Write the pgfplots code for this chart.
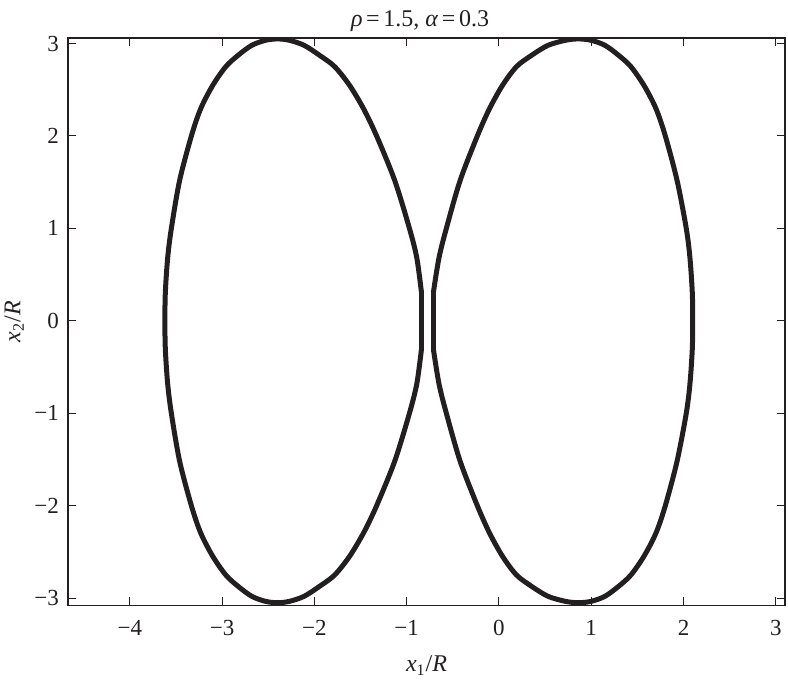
\documentclass[border=0pt]{standalone}
\usepackage{fontspec}
\setmainfont{Liberation Serif}
\usepackage{pgfplots}
\pgfplotsset{compat=1.18}
\definecolor{ink}{HTML}{231F20}
\begin{document}
\fontsize{10}{12}\selectfont
\begin{tikzpicture}
\begin{axis}[
  scale only axis,
  width=358.5pt, height=283.75pt,
  xmin=-4.67, xmax=3.1,
  ymin=-3.08, ymax=3.06,
  xtick={-4,-3,-2,-1,0,1,2,3},
  xticklabels={−4,−3,−2,−1,0,1,2,3},
  ytick={-3,-2,-1,0,1,2,3},
  yticklabels={−3,−2,−1,0,1,2,3},
  tick style={ink, line width=0.5pt},
  major tick length=4pt,
  axis line style={ink, line width=0.6pt},
  tick label style={font=\fontsize{11.5}{13}\selectfont, text=ink},
  xticklabel style={yshift=-4pt},
  yticklabel style={xshift=-1pt},
  xlabel={\textit{x}\textsubscript{1}/\textit{R}},
  ylabel={\textit{x}\textsubscript{2}/\textit{R}},
  label style={font=\fontsize{12}{14}\selectfont, text=ink},
  xlabel style={at={(axis description cs:0.5,-0.106)}, anchor=center},
  ylabel style={at={(axis description cs:-0.075,0.5)}, anchor=center, rotate=0},
  every axis title shift=0pt,
  title={\textit{ρ}\hspace{0.15em}=\hspace{0.15em}1.5, \textit{α}\hspace{0.15em}=\hspace{0.15em}0.3},
  title style={at={(axis description cs:0.491,1.021)}, anchor=base, font=\fontsize{12}{14}\selectfont, text=ink},
]
\coordinate (SW) at (rel axis cs:0,0);
\coordinate (NE) at (rel axis cs:1,1);
\addplot[ink, line width=2.5pt, line cap=round, line join=round, smooth, tension=0.5] table {
x y
-0.84 0.31
-0.89 0.68
-0.97 1.00
-1.13 1.52
-1.33 2.01
-1.47 2.30
-1.62 2.55
-1.78 2.75
-1.94 2.87
-2.11 2.98
-2.27 3.035
-2.40 3.05
-2.53 3.035
-2.68 2.98
-2.83 2.87
-2.96 2.75
-3.10 2.55
-3.23 2.30
-3.33 2.01
-3.46 1.52
-3.55 1.00
-3.59 0.68
-3.615 0.31
-3.62 0.00
-3.615 -0.31
-3.59 -0.68
-3.55 -1.00
-3.46 -1.52
-3.33 -2.01
-3.23 -2.30
-3.10 -2.55
-2.96 -2.75
-2.83 -2.87
-2.68 -2.98
-2.53 -3.035
-2.40 -3.05
-2.27 -3.035
-2.11 -2.98
-1.94 -2.87
-1.78 -2.75
-1.62 -2.55
-1.47 -2.30
-1.33 -2.01
-1.13 -1.52
-0.97 -1.00
-0.89 -0.68
-0.84 -0.31
};
\addplot[ink, line width=2.5pt, line cap=round] table {
x y
-0.84 -0.31
-0.84 0.31
};
\addplot[ink, line width=2.5pt, line cap=round, line join=round, smooth, tension=0.5] table {
x y
-0.71 0.31
-0.65 0.68
-0.57 1.00
-0.42 1.52
-0.23 2.01
-0.10 2.30
0.04 2.55
0.19 2.75
0.35 2.87
0.53 2.98
0.72 3.035
0.86 3.05
1.00 3.035
1.15 2.98
1.30 2.87
1.43 2.75
1.57 2.55
1.70 2.30
1.80 2.01
1.93 1.52
2.03 1.00
2.07 0.68
2.095 0.31
2.10 0.00
2.095 -0.31
2.07 -0.68
2.03 -1.00
1.93 -1.52
1.80 -2.01
1.70 -2.30
1.57 -2.55
1.43 -2.75
1.30 -2.87
1.15 -2.98
1.00 -3.035
0.86 -3.05
0.72 -3.035
0.53 -2.98
0.35 -2.87
0.19 -2.75
0.04 -2.55
-0.10 -2.30
-0.23 -2.01
-0.42 -1.52
-0.57 -1.00
-0.65 -0.68
-0.71 -0.31
};
\addplot[ink, line width=2.5pt, line cap=round] table {
x y
-0.71 -0.31
-0.71 0.31
};
\end{axis}
\pgfresetboundingbox
\path ([shift={(-34pt,-39.75pt)}]SW) rectangle ([shift={(1.5pt,19pt)}]NE);
\end{tikzpicture}
\end{document}
